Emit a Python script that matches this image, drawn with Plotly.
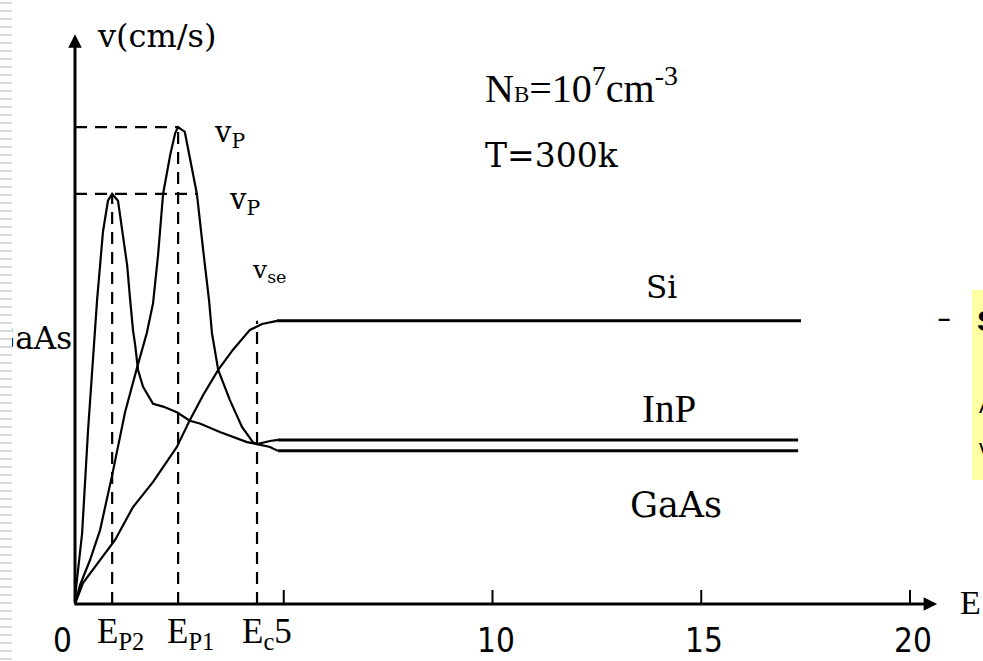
import plotly.graph_objects as go

# Drift velocity v(E) sketch, v in units of 1e7 cm/s, E in kV/cm
E_gaas = [0, 0.02, 0.17, 0.31, 0.53, 0.60, 0.67, 0.79, 0.89, 1.03, 1.13, 1.25, 1.32, 1.39,
          1.44, 1.51, 1.63, 1.87, 2.11, 2.44, 2.75, 2.99, 3.47, 4.12, 4.36, 4.67, 4.86]
v_gaas = [0, 0.05, 0.25, 0.61, 1.08, 1.20, 1.32, 1.43, 1.454, 1.43, 1.32, 1.20, 1.08, 0.97,
          0.92, 0.83, 0.77, 0.71, 0.70, 0.68, 0.65, 0.64, 0.61, 0.574, 0.567, 0.557, 0.543]

E_inp = [0, 0.12, 0.36, 0.60, 0.89, 1.20, 1.49, 1.72, 1.87, 1.99, 2.11, 2.28, 2.40, 2.47,
         2.63, 2.78, 2.92, 3.07, 3.21, 3.28, 3.43, 3.71, 4.00, 4.26, 4.36, 4.67, 4.86]
v_inp = [0, 0.067, 0.156, 0.262, 0.457, 0.681, 0.840, 0.961, 1.067, 1.238, 1.454, 1.592, 1.670, 1.691,
         1.674, 1.557, 1.454, 1.255, 1.078, 0.961, 0.830, 0.723, 0.628, 0.574, 0.567, 0.578, 0.582]

E_si = [0, 0.19, 0.96, 1.39, 1.87, 2.44, 2.75, 3.07, 3.43, 3.78, 4.19, 4.48, 4.84]
v_si = [0, 0.074, 0.227, 0.344, 0.433, 0.557, 0.652, 0.741, 0.830, 0.901, 0.972, 0.993, 1.004]

E_end_si = 17.39
E_end_iii_v = 17.32

# characteristic fields and velocities
E_p2, E_p1, E_c = 0.89, 2.47, 4.36
v_p2, v_p1, v_se = 1.454, 1.691, 1.004
v_p2_line_end = 2.92

x_ticks = [5, 10, 15, 20]
x_tick_labels = ["10", "15", "20"]
E_max, v_max = 20.65, 2.02

PX_PER_E = 41.75
PX_PER_V = 282.0
X0_PX, Y0_PX = 75, 604
W, H = 983, 661

fig = go.Figure()

ink = "black"
curve_w = 2.2
plateau_w = 3
dash = "12px,8px"

for E, v, end in [(E_gaas, v_gaas, E_end_iii_v), (E_inp, v_inp, E_end_iii_v), (E_si, v_si, E_end_si)]:
    fig.add_trace(go.Scatter(x=E, y=v, mode="lines", line=dict(color=ink, width=curve_w),
                             hoverinfo="skip", showlegend=False))
    fig.add_trace(go.Scatter(x=[E[-1], end], y=[v[-1], v[-1]], mode="lines",
                             line=dict(color=ink, width=plateau_w),
                             hoverinfo="skip", showlegend=False))

# dashed guide lines
guides = [
    ([E_p2, E_p2], [0, v_p2]),
    ([E_p1, E_p1], [0, v_p1]),
    ([E_c, E_c], [0, v_se]),
    ([0, E_p1], [v_p1, v_p1]),
    ([0, v_p2_line_end], [v_p2, v_p2]),
]
for gx, gy in guides:
    fig.add_trace(go.Scatter(x=gx, y=gy, mode="lines",
                             line=dict(color=ink, width=2.2, dash=dash),
                             hoverinfo="skip", showlegend=False))

# tick marks on the field axis
tick_h = 14 / PX_PER_V
tx, ty = [], []
for t in x_ticks:
    tx += [t, t, None]
    ty += [0, tick_h, None]
fig.add_trace(go.Scatter(x=tx, y=ty, mode="lines", line=dict(color=ink, width=2),
                         hoverinfo="skip", showlegend=False))

serif = "DejaVu Serif"
times = "Liberation Serif"
narrow = "Liberation Sans Narrow, DejaVu Sans Condensed, Liberation Sans"

# partially hidden material label at the left edge
fig.add_trace(go.Scatter(x=[-0.07], y=[0.93], mode="text", text=["GaAs"],
                         textposition="middle left",
                         textfont=dict(family=serif, size=31, color=ink),
                         hoverinfo="skip", showlegend=False, cliponaxis=False))

ann = []
# axes with arrowheads
ann.append(dict(x=0, y=v_max, ax=0, ay=0, xref="x", yref="y", axref="x", ayref="y",
                showarrow=True, arrowhead=2, arrowsize=0.9, arrowwidth=3, arrowcolor=ink, text=""))
ann.append(dict(x=E_max, y=0, ax=-0.05, ay=0, xref="x", yref="y", axref="x", ayref="y",
                showarrow=True, arrowhead=2, arrowsize=0.9, arrowwidth=3, arrowcolor=ink, text=""))


def txt(x, y, s, size, family=serif, xanchor="center", yanchor="middle", xshift=0, yshift=0):
    ann.append(dict(x=x, y=y, xref="x", yref="y", text=s, showarrow=False,
                    xanchor=xanchor, yanchor=yanchor, xshift=xshift, yshift=yshift,
                    font=dict(family=family, size=size, color=ink)))


txt(0.48, 2.015, "v(cm/s)", 32, serif, xanchor="left")
txt(9.77, 1.837, "N<span style='font-size:23px'>B</span>=10<sup>7</sup>cm<sup>-3</sup>", 40, times, xanchor="left")
txt(9.77, 1.59, "T=300k", 33, serif, xanchor="left")
txt(3.28, 1.665, "v<sub>P</sub>", 29, serif, xanchor="left")
txt(3.64, 1.43, "v<sub>P</sub>", 29, serif, xanchor="left")
txt(4.19, 1.18, "v<sub>se</sub>", 25, serif, xanchor="left")
txt(14.04, 1.124, "Si", 31, serif)
txt(14.23, 0.695, "InP", 39, times)
txt(14.40, 0.351, "GaAs", 35, serif)
txt(21.44, 0.004, "E", 34, times)

# field axis labels
txt(0, -0.13, "0", 33, narrow, xshift=-13)
for t, lab in zip(x_ticks[1:], x_tick_labels):
    txt(t, -0.13, lab, 33, narrow, xshift=3)
txt(0.48, -0.105, "E<sub>P2</sub>", 35, times, xanchor="left")
txt(2.16, -0.105, "E<sub>P1</sub>", 35, times, xanchor="left")
txt(3.95, -0.105, "E<sub>c</sub>5", 35, times, xanchor="left")

# right-hand edge: neighbouring note on a yellow panel
ann.append(dict(xref="paper", yref="paper", x=951.5 / W, y=1 - 318 / H, text="<b>–</b>", showarrow=False,
                font=dict(family="Liberation Sans", size=22, color=ink)))
ann.append(dict(xref="paper", yref="paper", x=975 / W, y=1 - 320 / H, text="<b>S</b>", showarrow=False,
                xanchor="left", font=dict(family="Liberation Sans", size=30, color=ink)))
ann.append(dict(xref="paper", yref="paper", x=977 / W, y=1 - 405 / H, text="A", showarrow=False,
                xanchor="left", font=dict(family="Liberation Sans", size=22, color=ink)))
ann.append(dict(xref="paper", yref="paper", x=977 / W, y=1 - 462 / H, text="v", showarrow=False,
                xanchor="left", font=dict(family="Liberation Sans", size=22, color=ink)))

shapes = []
shapes.append(dict(type="rect", xref="paper", yref="paper", x0=972 / W, x1=1.01,
                   y0=1 - 480 / H, y1=1 - 290 / H, fillcolor="#ffffa4", line=dict(width=0), layer="below"))
# left page border strip
shapes.append(dict(type="rect", xref="paper", yref="paper", x0=0, x1=12 / W, y0=0, y1=1,
                   fillcolor="white", line=dict(width=0), layer="above"))
yy = 3
while yy < H:
    shapes.append(dict(type="line", xref="paper", yref="paper", x0=0, x1=12 / W,
                       y0=1 - yy / H, y1=1 - yy / H, line=dict(color="#d9d9d9", width=2), layer="above"))
    yy += 8

fig.update_layout(
    width=W, height=H, autosize=False,
    margin=dict(l=0, r=0, t=0, b=0, pad=0),
    paper_bgcolor="white", plot_bgcolor="white",
    xaxis=dict(range=[-X0_PX / PX_PER_E, (W - X0_PX) / PX_PER_E], visible=False, fixedrange=True),
    yaxis=dict(range=[(Y0_PX - H) / PX_PER_V, Y0_PX / PX_PER_V], visible=False, fixedrange=True),
    annotations=ann, shapes=shapes, showlegend=False,
)

fig.write_html("out.html")
